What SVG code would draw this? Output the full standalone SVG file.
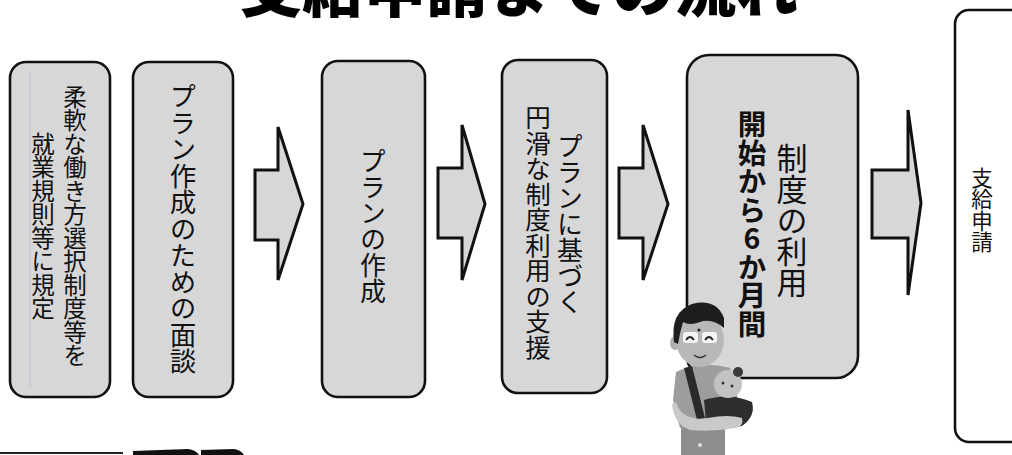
<svg xmlns="http://www.w3.org/2000/svg" width="1012" height="455" viewBox="0 0 1012 455">
  <style>
    .box { fill: #d7d7d7; stroke: #111; stroke-width: 2.6; }
    .box-white { fill: #fff; stroke: #111; stroke-width: 2.6; }
    .arrow { fill: #d7d7d7; stroke: #111; stroke-width: 3; stroke-linejoin: miter; }
    .vt { font-family: "Noto Sans CJK JP", "Noto Sans", sans-serif; fill: #111; writing-mode: vertical-rl; }
    .vt-bold { font-weight: bold; text-orientation: upright; }
    .title { font-family: "Noto Sans CJK JP", "Noto Sans", sans-serif; font-weight: 900; fill: #000; }
  </style>

  <rect width="1012" height="455" fill="#fff"/>

  <!-- heading (top half runs off the page edge) -->
  <g id="title">
    <text class="title" x="240" y="12" font-size="62">支給申請までの流れ</text>
  </g>

  <!-- step boxes -->
  <g id="step1">
    <rect class="box" x="10" y="62" width="100" height="335" rx="16"/>
    <line x1="30" y1="72" x2="30" y2="388" stroke="#cbbcd8" stroke-width="1"/>
    <text class="vt" x="75" y="85" font-size="23.5">柔軟な働き方選択制度等を</text>
    <text class="vt" x="43" y="132" font-size="23.5">就業規則等に規定</text>
  </g>

  <g id="step2">
    <rect class="box" x="133" y="62" width="100" height="335" rx="16"/>
    <text class="vt" x="183" y="83" font-size="26.5">プラン作成のための面談</text>
  </g>

  <g id="step3">
    <rect class="box" x="322" y="61" width="103" height="336" rx="16"/>
    <text class="vt" x="373" y="148" font-size="26">プランの作成</text>
  </g>

  <g id="step4">
    <rect class="box" x="502" y="60" width="105" height="333" rx="16"/>
    <text class="vt" x="570" y="133" font-size="26">プランに基づく</text>
    <text class="vt" x="538" y="105" font-size="25.5">円滑な制度利用の支援</text>
  </g>

  <g id="step5">
    <rect class="box" x="687" y="55" width="171" height="323" rx="22"/>
    <text class="vt" x="792" y="143" font-size="31">制度の利用</text>
    <text class="vt vt-bold" x="752" y="110" font-size="28.5">開始から6か月間</text>
  </g>

  <g id="step6">
    <rect class="box-white" x="955" y="10" width="90" height="432" rx="14"/>
    <text class="vt" x="982" y="167" font-size="21.5">支給申請</text>
  </g>

  <!-- block arrows between steps -->
  <g id="connectors">
    <polygon class="arrow" points="255,170 278,170 278,127 303,204 278,280 278,240 255,240"/>
    <polygon class="arrow" points="438,168 462,168 462,125 485,204 462,280 462,238 438,238"/>
    <polygon class="arrow" points="619,168 643,168 643,125 668,204 643,280 643,238 619,238"/>
    <polygon class="arrow" points="872,170 908,170 908,110 921,203 908,295 908,238 872,238"/>
  </g>

  <!-- father holding a baby -->
  <g id="father">
    <!-- trousers -->
    <rect x="681" y="420" width="44" height="40" fill="#8d8d8d"/>
    <circle cx="700" cy="445" r="2" fill="#ddd"/>
    <!-- shirt -->
    <path d="M676,372 Q700,360 730,368 L738,400 L733,428 L680,428 L673,400 Z" fill="#9d9d9d"/>
    <!-- strap -->
    <path d="M684,368 L692,366 L705,418 L697,420 Z" fill="#2a2a2a"/>
    <!-- face -->
    <ellipse cx="675" cy="343" rx="5" ry="7" fill="#b0b0b0"/>
    <ellipse cx="700" cy="340" rx="24" ry="27" fill="#b8b8b8"/>
    <!-- hair -->
    <path d="M674,342 Q670,312 692,304 Q716,298 724,318 L724,328 Q712,318 700,322 Q690,326 683,322 Q680,332 678,344 Z" fill="#1e1e1e"/>
    <!-- glasses -->
    <rect x="683" y="332" width="15" height="11" rx="3" fill="#f4f4f4"/>
    <rect x="702" y="332" width="15" height="11" rx="3" fill="#f4f4f4"/>
    <path d="M686,340 Q690,334 694,340 M705,340 Q709,334 713,340" fill="none" stroke="#222" stroke-width="1.8"/>
    <circle cx="699" cy="330" r="1.6" fill="#222"/>
    <path d="M694,355 Q700,360 706,355" fill="none" stroke="#333" stroke-width="1.5"/>
    <!-- baby -->
    <path d="M704,400 Q730,392 752,402 Q756,416 742,426 Q722,430 706,422 Z" fill="#2e2e2e"/>
    <circle cx="728" cy="384" r="14" fill="#c2c2c2"/>
    <circle cx="738" cy="372" r="5" fill="#3a3a3a"/>
    <circle cx="723" cy="383" r="1.5" fill="#333"/>
    <circle cx="732" cy="386" r="1.5" fill="#333"/>
    <!-- arm around the baby -->
    <path d="M676,402 Q682,422 708,418 Q728,414 742,418 Q744,426 736,428 Q712,432 690,430 Q674,424 672,404 Z" fill="#c9c9c9"/>
  </g>

  <!-- marks along the bottom edge -->
  <g id="footer-marks">
    <rect x="0" y="452" width="123" height="2" fill="#222"/>
    <path d="M133,451 L188,449 Q196,450 199,455 L133,455 Z" fill="#111"/>
    <path d="M201,450 L234,449 Q241,450 244,455 L201,455 Z" fill="#111"/>
  </g>
</svg>
